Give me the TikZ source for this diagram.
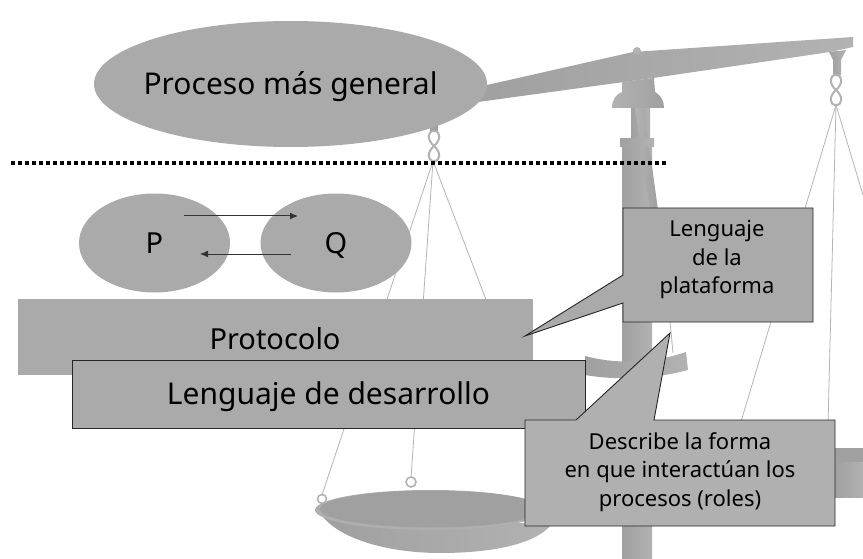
\documentclass[tikz,border=0pt]{standalone}
\usepackage{fontspec}
\setmainfont{Noto Sans}
\usetikzlibrary{shapes.geometric,arrows.meta}
\definecolor{boxg}{HTML}{AAAAAA}
\definecolor{calloutg}{HTML}{B0B0B0}
\definecolor{stringg}{HTML}{B4B4B4}
\definecolor{metalA}{HTML}{A0A0A0}
\definecolor{metalB}{HTML}{B2B2B2}
\newcommand\ctext[1]{\makebox[0pt]{\raisebox{-0.36em}[0pt][0pt]{#1}}}
\tikzset{
  proc/.style={ellipse,fill=boxg,draw=none,inner sep=0pt,text=black},
  band/.style={rectangle,fill=boxg,inner sep=0pt,text=black},
  bandline/.style={band,draw=black!85,line width=0.9pt},
  callout/.style={draw=black!85,line width=0.9pt,line join=miter},
  calltext/.style={align=center,font=\fontsize{22}{28.5}\selectfont,text=black,inner sep=0pt},
  flow/.style={draw=black!80,line width=1pt,-{Latex[length=8pt,width=7pt]}},
  cord/.style={draw=stringg,line width=0.8pt},
  ringline/.style={draw=metalB,line width=2pt,fill=none},
  metal/.style={left color=metalA,right color=metalB,draw=none},
  metalrev/.style={left color=metalB,right color=metalA,draw=none},
}
\begin{document}
\begin{tikzpicture}[x=1pt,y=-1pt]
\useasboundingbox (0,0) rectangle (863,559);
\fill[white] (0,0) rectangle (863,559);
% balance: post
\path[metal] (622,145) rectangle (652,559);
\path[metal] (631,108) rectangle (650,140);
\path[metalrev] (635,108) -- (644,108) -- (658,210) -- (650,210) -- cycle;
\path[metal] (620,139) rectangle (654,147);
% beam
\path[metal] (470,88) -- (487,85) -- (633,52) -- (853,37) -- (853,47) -- (830,52) -- (653,78) -- (478,102) -- cycle;
\fill[metalB] (637,51) circle (4);
\path[metalrev] (622,82) -- (654,78) -- (655,92) .. controls (662,96) and (664,102) .. (664,108) -- (612,108) .. controls (612,100) and (616,94) .. (622,92) -- cycle;
% right hanger
\path[metal] (829,52) -- (846,50) -- (841,60) -- (841,75) -- (833,75) -- (833,60) -- cycle;
\draw[ringline] (836,90) .. controls (829,84) and (829,75) .. (836,75) .. controls (843,75) and (843,84) .. (836,90) .. controls (829,96) and (829,105) .. (836,105) .. controls (843,105) and (843,96) .. (836,90);
\draw[cord] (836,105) -- (740,425);
\draw[cord] (836,105) -- (828,425);
\draw[cord] (836,105) -- (863,195);
% left hanger
\fill[metalA] (430,120) rectangle (438,132);
\draw[ringline] (434,146) .. controls (427,140) and (427,131) .. (434,131) .. controls (441,131) and (441,140) .. (434,146) .. controls (427,152) and (427,161) .. (434,161) .. controls (441,161) and (441,152) .. (434,146);
\draw[cord] (433,161) -- (322,495);
\draw[cord] (433,161) -- (411,478);
\draw[cord] (433,161) -- (490,310);
\draw[cord] (668,300) -- (673,353);
% cross arc
\path[metal] (585,356) .. controls (615,364) and (650,364) .. (686,352) -- (688,370) .. controls (650,380) and (615,380) .. (585,375) -- cycle;
% pan
\draw[ringline,line width=1.6pt] (322,499) circle (4.5);
\draw[ringline,line width=1.6pt] (411,482) circle (5);
\path[metal] (324,518) .. controls (345,542) and (395,553) .. (440,553) .. controls (490,553) and (535,545) .. (552,524) -- cycle;
\fill[metalB!85!metalA] (430,510) ellipse (115 and 20);
\fill[metalA] (431,509) ellipse (111 and 18.5);
% right pan fragment
\fill[metalA] (835,448) rectangle (863,462);
\path[metal] (835,462) rectangle (863,497);
% dotted divider
\coordinate (divL) at (11,163);
\coordinate (divR) at (668,163);
\draw[black,line width=3.8pt,dash pattern=on 3.6pt off 3.4pt] (divL) -- (divR);
% processes
\node[proc,minimum width=393pt,minimum height=126pt,font=\fontsize{30}{36}\selectfont] (general) at (290.5,84) {\ctext{Proceso más general}};
\node[proc,minimum width=151pt,minimum height=99pt,font=\fontsize{29}{35}\selectfont] (p) at (154.5,243) {\ctext{P}};
\node[proc,minimum width=151pt,minimum height=99pt,font=\fontsize{29}{35}\selectfont] (q) at (336,243) {\ctext{Q}};
\coordinate (a1) at (184,216);
\coordinate (a2) at (298,216);
\coordinate (b1) at (291,254);
\coordinate (b2) at (200,254);
\draw[flow] (a1) -- (a2);
\draw[flow] (b1) -- (b2);
% bands
\node[band,minimum width=515pt,minimum height=76pt] (proto) at (275.5,337) {};
\node[font=\fontsize{29}{35}\selectfont,text=black,inner sep=0pt] (protot) at (275,339) {\ctext{Protocolo}};
\node[bandline,minimum width=513pt,minimum height=68pt,font=\fontsize{30}{36}\selectfont] (dev) at (328.5,394) {\ctext{Lenguaje de desarrollo}};
% callouts
\draw[callout,fill=boxg] (623,208) -- (813,208) -- (813,322) -- (623,322) -- (623,303) -- (525,336) -- (623,275) -- cycle;
\node[calltext] (plat) at (717,260) {Lenguaje\\de la\\plataforma};
\draw[callout,fill=calloutg] (525,420) -- (576,420) -- (670,333) -- (654,420) -- (835,420) -- (835,526) -- (525,526) -- cycle;
\node[calltext] (desc) at (680,472) {Describe la forma\\en que interactúan los\\procesos (roles)};
\end{tikzpicture}
\end{document}
